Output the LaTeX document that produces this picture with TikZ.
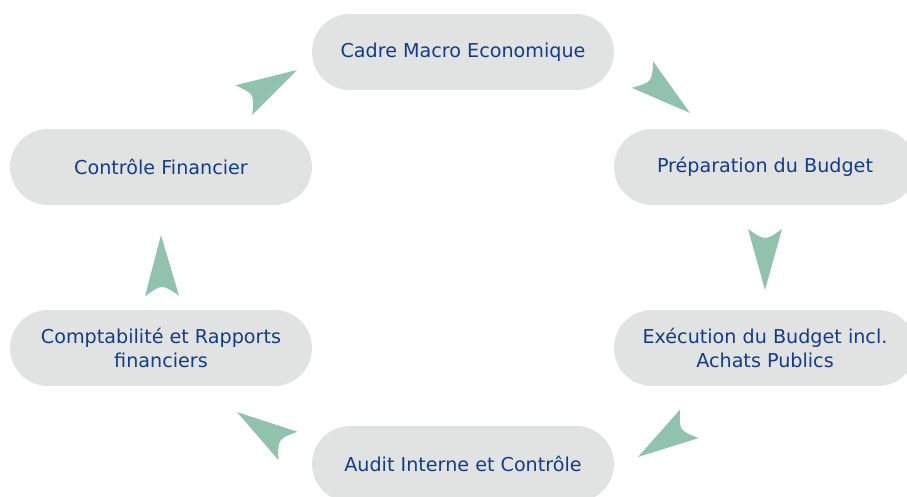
\documentclass[tikz,border=0pt]{standalone}
\usepackage{fontspec}
\setmainfont{DejaVu Sans}
\usetikzlibrary{decorations.markings}
\definecolor{boxgrey}{HTML}{E1E2E2}
\definecolor{textblue}{HTML}{143C8C}
\definecolor{arrowteal}{HTML}{90C2AE}
\begin{document}
\begin{tikzpicture}[
				x = 0.02cm, y = -0.02cm,
				stage/.style = {fill = boxgrey, text = textblue, rounded corners = 0.76cm, minimum width = 6.04cm, minimum height = 1.52cm, align = center, font = \fontsize{10.9}{14.2}\selectfont},
				tri/.style = {postaction = {decorate}, decoration = {markings, mark = at position 1 with {\fill[arrowteal] (0,0) -- (-61,-17) .. controls (-49,0) .. (-61,17) -- cycle;}}}
			]
			\useasboundingbox (0,0) rectangle (907,497);

			\node (cadre) [stage] at (463,52) {Cadre Macro Economique};
			\node (prep) [stage] at (765,167) {Préparation du Budget};
			\node (exec) [stage] at (765,348) {Exécution du Budget incl.\\Achats Publics};
			\node (audit) [stage] at (463,464) {Audit Interne et Contrôle};
			\node (compta) [stage] at (161,348) {Comptabilité et Rapports\\financiers};
			\node (controle) [stage] at (161,167) {Contrôle Financier};

			% arrow ends
			\coordinate (b1) at (244,100); \coordinate (t1) at (297,70);
			\coordinate (b2) at (643,75);  \coordinate (t2) at (690,113);
			\coordinate (b3) at (765,228); \coordinate (t3) at (765,290);
			\coordinate (b4) at (689,424); \coordinate (t4) at (638,457);
			\coordinate (b5) at (288,446); \coordinate (t5) at (237,412);
			\coordinate (b6) at (162,294); \coordinate (t6) at (161,235);

			\path[tri] (b1) -- (t1);
			\path[tri] (b2) -- (t2);
			\path[tri] (b3) -- (t3);
			\path[tri] (b4) -- (t4);
			\path[tri] (b5) -- (t5);
			\path[tri] (b6) -- (t6);
		\end{tikzpicture}
\end{document}
